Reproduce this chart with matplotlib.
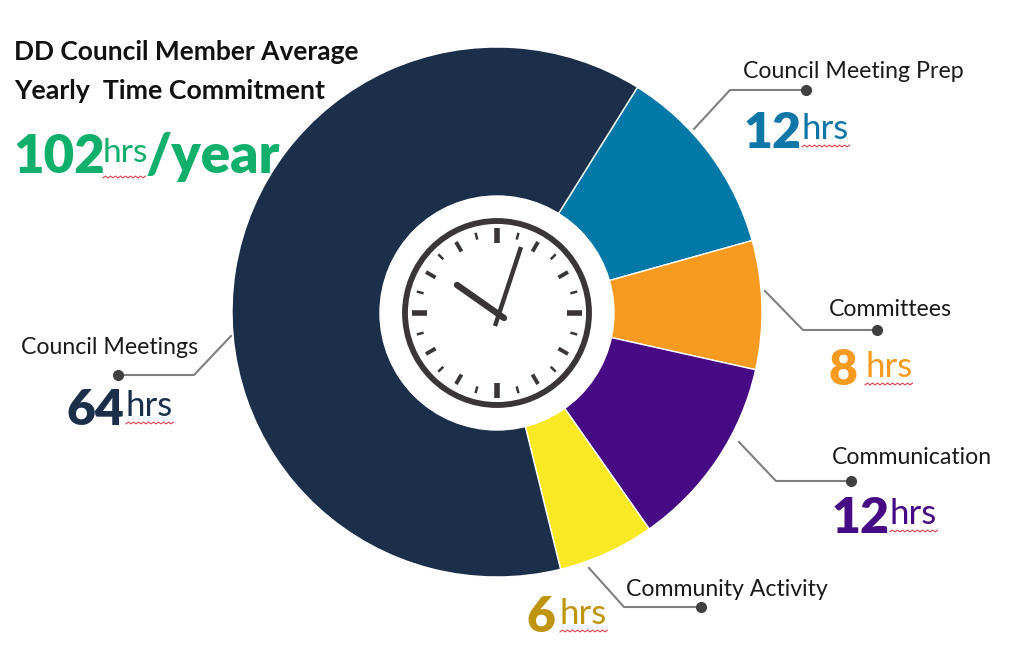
import numpy as np
import matplotlib
matplotlib.use("Agg")
import matplotlib.pyplot as plt

plt.rcParams["font.family"] = ["Lato", "DejaVu Sans"]

# hours per year, clockwise from the top right
names = ["Council Meeting Prep", "Committees", "Communication", "Community Activity", "Council Meetings"]
hours = [12, 8, 12, 6, 64]
total = 102
slice_colors = ["#0078A8", "#F79A20", "#470A85", "#F9E925", "#1B2F4B"]
text_colors = ["#0F76A8", "#F79A20", "#470A85", "#BF9510", "#1B2F4B"]

# layout in image pixels: label x/baseline, number x/baseline, hrs x/baseline, leader points
label_pos = [(743, 78), (829, 316), (832, 464), (626, 596), (21, 354)]
num_pos = [(743, 148), (829, 385), (832, 533), (526, 632), (67, 425)]
hrs_pos = [(802, 139), (865, 377), (890, 524), (560, 624), (126, 416)]
leaders = [
    [(694, 129), (730, 90), (806, 90)],
    [(765, 291), (803, 330), (877, 330)],
    [(739, 442), (776, 481), (851, 481)],
    [(589, 568), (624, 607), (701, 607)],
    [(231, 336), (194, 375), (118, 375)],
]

H = 650
CX, CY, R = 497, 312, 265


def py(y):
    return H - y


def squiggle(ax, x0, x1, y):
    xs = np.arange(x0, x1 + 0.1, 2.5)
    ys = [py(y) + (0.9 if i % 2 else -0.9) for i in range(len(xs))]
    ax.plot(xs, ys, color="#D9404F", lw=0.8, zorder=6)


fig = plt.figure(figsize=(10.24, 6.5), dpi=100)
ax = fig.add_axes([0, 0, 1, 1])

ax.pie(hours, colors=slice_colors, startangle=58, counterclock=False,
       center=(CX, py(CY)), radius=R,
       wedgeprops=dict(edgecolor="white", linewidth=1.0))
ax.set_xlim(0, 1024)
ax.set_ylim(0, H)
ax.set_aspect("equal")
ax.axis("off")

# clock in the middle
ccx, ccy = 497, py(313)
ax.add_patch(plt.Circle((ccx, ccy), 117, color="white", zorder=3))
ax.add_patch(plt.Circle((ccx, ccy), 92, fc="white", ec="#3A3536", lw=4.2, zorder=4))
for i in range(24):
    a = np.radians(i * 15)
    if i % 6 == 0:
        r0, r1, w = 70, 85, 4.0
    elif i % 2 == 0:
        r0, r1, w = 71, 82, 2.8
    else:
        r0, r1, w = 76, 83, 1.8
    ax.plot([ccx + r0 * np.sin(a), ccx + r1 * np.sin(a)],
            [ccy + r0 * np.cos(a), ccy + r1 * np.cos(a)],
            color="#3A3536", lw=w, solid_capstyle="butt", zorder=5)
ax.plot([457, 504], [py(285), py(318)], color="#3A3536", lw=4.6, solid_capstyle="round", zorder=5)
ax.plot([521, 495], [py(247), py(326)], color="#3A3536", lw=3.2, solid_capstyle="butt", zorder=5)

# leaders and labels
for i in range(len(names)):
    xs = [p[0] for p in leaders[i]]
    ys = [py(p[1]) for p in leaders[i]]
    ax.plot(xs, ys, color="#7F7F7F", lw=1.5, zorder=2)
    ax.plot(xs[-1], ys[-1], "o", color="#404040", ms=7, zorder=2)
    ax.text(label_pos[i][0], py(label_pos[i][1]), names[i], fontsize=16.7, color="#1A1A1A")
    ax.text(num_pos[i][0], py(num_pos[i][1]), str(hours[i]), fontsize=36, fontweight="heavy",
            color=text_colors[i])
    ax.text(hrs_pos[i][0], py(hrs_pos[i][1]), "hrs", fontsize=25, color=text_colors[i])
    squiggle(ax, hrs_pos[i][0], hrs_pos[i][0] + 48, hrs_pos[i][1] + 7)

# title block
ax.text(14, py(60), "DD Council Member Average", fontsize=19, fontweight="bold", color="#111111")
ax.text(14, py(99), "Yearly  Time Commitment", fontsize=19.3, fontweight="bold", color="#111111")
ax.text(13, py(173), str(total), fontsize=38, fontweight="heavy", color="#10AF6B", zorder=6)
ax.text(103, py(162), "hrs", fontsize=24, color="#10AF6B", zorder=6)
ax.text(146, py(173), "/year", fontsize=39.5, fontweight="heavy", color="#10AF6B", zorder=6)
squiggle(ax, 103, 147, 177)

fig.savefig("out.png", dpi=100, facecolor="white")
